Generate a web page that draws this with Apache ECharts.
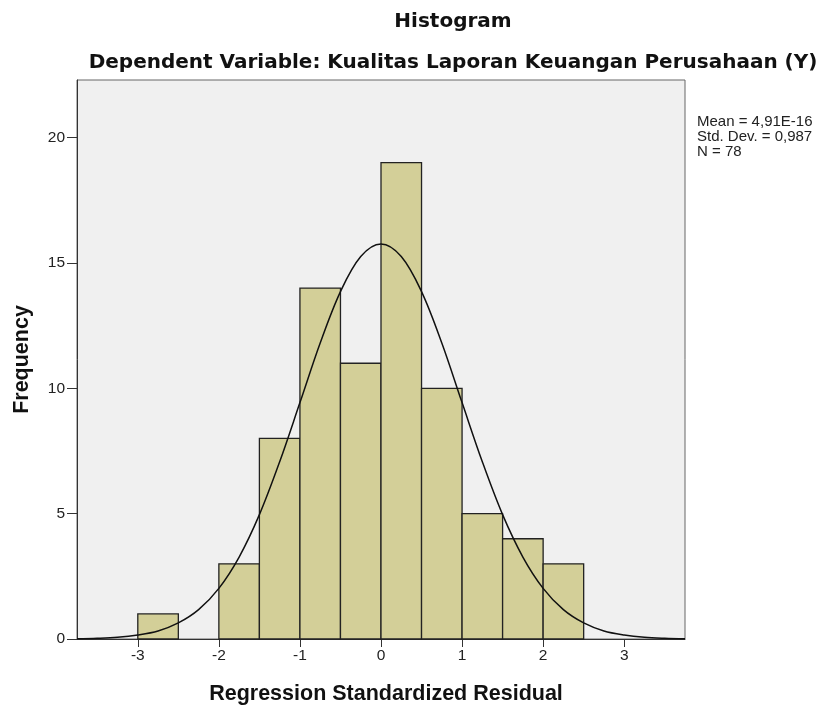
<!DOCTYPE html>
<html>
<head>
<meta charset="utf-8">
<script src="https://cdn.jsdelivr.net/npm/echarts@6/dist/echarts.min.js"></script>
<style>
  html, body { margin: 0; padding: 0; background: #fff; }
  #main { width: 821px; height: 710px; }
</style>
</head>
<body>
<div id="main"></div>
<script>
// histogram bins (start of each bin, width 0.5) and counts
var binStart = [-3, -2.5, -2, -1.5, -1, -0.5, 0, 0.5, 1, 1.5, 2];
var counts   = [1, 0, 3, 8, 14, 11, 19, 10, 5, 4, 3];
var binWidth = 0.5;

// normal curve
var curveX = [-3.75, -3.5, -3.25, -3, -2.75, -2.5, -2.25, -2, -1.75, -1.5, -1.25, -1, -0.75, -0.5, -0.25, 0,
              0.25, 0.5, 0.75, 1, 1.25, 1.5, 1.75, 2, 2.25, 2.5, 2.75, 3, 3.25, 3.5, 3.75];
var curveY = [0.01, 0.03, 0.07, 0.16, 0.32, 0.64, 1.17, 2.02, 3.27, 4.96, 7.07, 9.43, 11.81, 13.86, 15.26, 15.76,
              15.26, 13.86, 11.81, 9.43, 7.07, 4.96, 3.27, 2.02, 1.17, 0.64, 0.32, 0.16, 0.07, 0.03, 0.01];

var xTicks = [-3, -2, -1, 0, 1, 2, 3];
var yTicks = [0, 5, 10, 15, 20];
var statLines = ['Mean = 4,91E-16', 'Std. Dev. = 0,987', 'N = 78'];

var barData = binStart.map(function (s, i) { return [s, s + binWidth, counts[i]]; });
var lineData = curveX.map(function (x, i) { return [x, curveY[i]]; });

var baseFont = 'Liberation Sans, Arial, sans-serif';
var myChart = echarts.init(document.getElementById('main'));
var option = {
    backgroundColor: '#ffffff',
    animation: false,
    textStyle: { fontFamily: baseFont },
    title: [{
        text: 'Histogram',
        left: 448, top: 7, textAlign: 'center',
        textStyle: { fontSize: 20, fontWeight: 'bold', color: '#111', fontFamily: 'DejaVu Sans' }
    }, {
        text: 'Dependent Variable: Kualitas Laporan Keuangan Perusahaan (Y)',
        left: 448, top: 48, textAlign: 'center',
        textStyle: { fontSize: 20, fontWeight: 'bold', color: '#111', fontFamily: 'DejaVu Sans' }
    }],
    graphic: [{
        type: 'text', left: 697, top: 114,
        style: { text: statLines.join('\n'), fontSize: 15, lineHeight: 15, fill: '#222',
                 fontFamily: baseFont }
    }],
    grid: {
        left: 77, right: 136, top: 80, bottom: 70,
        show: true, backgroundColor: '#f0f0f0', borderColor: '#666', borderWidth: 1
    },
    xAxis: {
        type: 'value', min: -3.75, max: 3.75,
        name: 'Regression Standardized Residual', nameLocation: 'middle', nameGap: 44,
        nameTextStyle: { fontSize: 21.5, fontWeight: 'bold', color: '#111', padding: [0, 0, 0, 10] },
        axisLine: { show: true, onZero: false, lineStyle: { color: '#333' } },
        axisTick: { show: true, customValues: xTicks, length: 8, lineStyle: { color: '#333' } },
        axisLabel: { customValues: xTicks, fontSize: 15.5, color: '#222', margin: 9 },
        splitLine: { show: false }
    },
    yAxis: {
        type: 'value', min: 0, max: 22.3,
        name: 'Frequency', nameLocation: 'middle', nameGap: 44,
        nameTextStyle: { fontSize: 21.5, fontWeight: 'bold', color: '#111' },
        axisLine: { show: true, onZero: false, lineStyle: { color: '#333' } },
        axisTick: { show: true, customValues: yTicks, length: 10, lineStyle: { color: '#333' } },
        axisLabel: { customValues: yTicks, fontSize: 15.5, color: '#222', margin: 12 },
        splitLine: { show: false }
    },
    series: [{
        type: 'custom',
        data: barData,
        encode: { x: [0, 1], y: 2 },
        renderItem: function (params, api) {
            var h = api.value(2);
            if (!h) return null;
            var p0 = api.coord([api.value(0), h]);
            var p1 = api.coord([api.value(1), 0]);
            return {
                type: 'rect',
                shape: { x: p0[0], y: p0[1], width: p1[0] - p0[0], height: p1[1] - p0[1] },
                style: { fill: '#d3cf98', stroke: '#222', lineWidth: 1.3 }
            };
        },
        z: 2
    }, {
        type: 'line',
        data: lineData,
        smooth: 0.35,
        showSymbol: false,
        lineStyle: { color: '#111', width: 1.5 },
        z: 3
    }]
};
myChart.setOption(option);
</script>
</body>
</html>
